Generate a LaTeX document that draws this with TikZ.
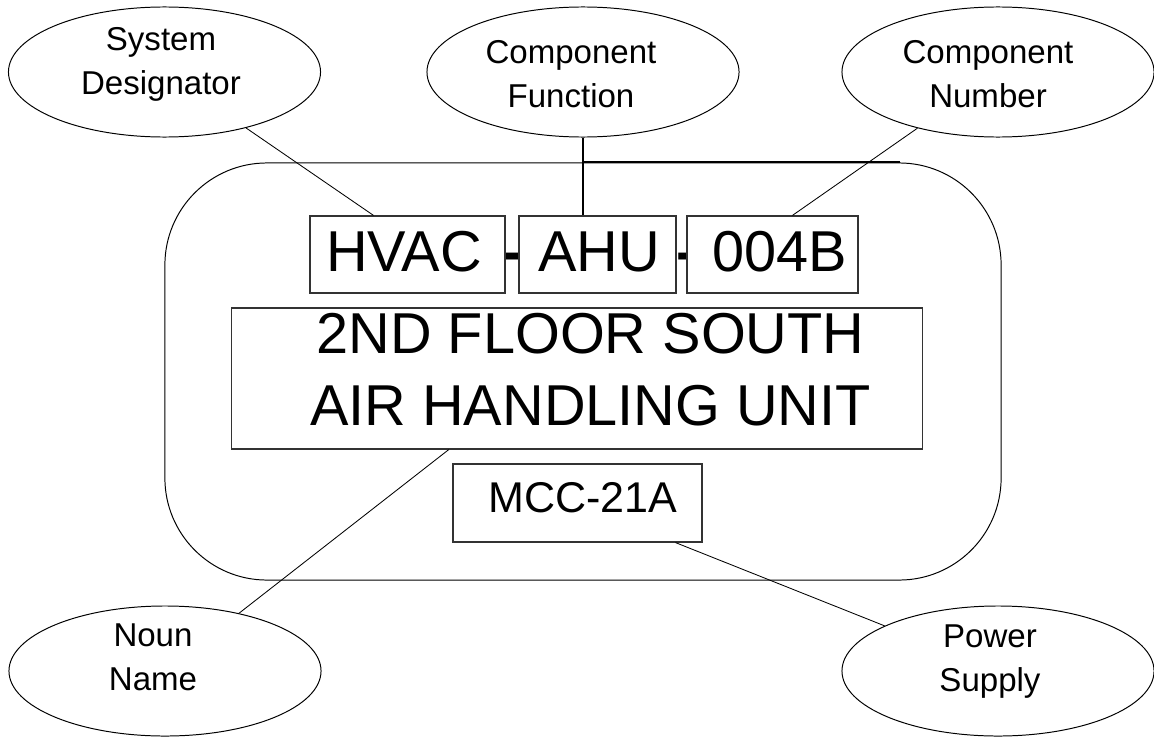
\documentclass[tikz,border=0pt]{standalone}
\usepackage{fontspec}
\setmainfont{Liberation Sans}
\usetikzlibrary{calc,shapes.geometric}

\begin{document}
\begin{tikzpicture}[
    x=0.025cm, y=-0.025cm,
    oval/.style={draw=black, ellipse, minimum width=7.8cm, minimum height=3.25cm,
      inner sep=0pt, line width=0.7pt},
    ovaltext/.style={align=center, inner sep=0pt, anchor=north,
      font=\fontsize{23.5}{31.3}\selectfont},
    fieldbox/.style={draw=black!80, fill=white, line width=0.8pt,
      minimum height=1.925cm, inner sep=0pt},
    fieldtext/.style={inner sep=0pt, anchor=base, font=\fontsize{41}{51.2}\selectfont},
    codetext/.style={inner sep=0pt, anchor=base, font=\fontsize{30.6}{36}\selectfont},
    leader/.style={draw=black, line width=0.6pt}
  ]
  \useasboundingbox (0,0) rectangle (1154,736);

  % tag outline
  \node[draw=black, line width=0.7pt, rounded corners=2.55cm, minimum width=20.9cm,
    minimum height=10.425cm, inner sep=0pt] (frame) at (583,371.5) {};

  % callouts
  \node[oval] (sysdes) at (164.5,72) {};
  \node[ovaltext] (sysdesText) at (161,27) {System\\Designator};
  \node[oval] (func) at (583,72) {};
  \node[ovaltext] (funcText) at (571,40) {Component\\Function};
  \node[oval] (num) at (998,72) {};
  \node[ovaltext] (numText) at (988,40) {Component\\Number};
  \node[oval] (noun) at (165,671) {};
  \node[ovaltext] (nounText) at (153,623) {Noun\\Name};
  \node[oval] (power) at (998,671) {};
  \node[ovaltext] (powerText) at (990,624) {Power\\Supply};

  % separators of the tag number
  \node[fieldtext, font=\fontsize{41}{51.2}\selectfont\bfseries] (dashA) at (512,271) {-};
  \node[fieldtext, font=\fontsize{41}{51.2}\selectfont\bfseries] (dashB) at (686,271) {-};

  % tag fields
  \node[fieldbox, minimum width=4.875cm] (hvac) at (407.5,254.5) {};
  \node[fieldbox, minimum width=3.925cm] (ahu) at (597.5,254.5) {};
  \node[fieldbox, minimum width=4.275cm] (seq) at (772.5,254.5) {};
  \node[fieldbox, minimum width=17.25cm, minimum height=3.525cm] (desc) at (577,378.5) {};
  \node[fieldbox, minimum width=6.225cm, minimum height=1.95cm] (mcc) at (577.5,503) {};

  \node[fieldtext] (hvacText) at (404,271) {HVAC};
  \node[fieldtext] (ahuText) at (599,271) {AHU};
  \node[fieldtext] (seqText) at (780,271) {004B};
  \node[fieldtext, anchor=north, align=center] (descText) at (590.5,313)
    {2ND FLOOR SOUTH\\AIR HANDLING UNIT};
  \node[codetext] (mccText) at (583,512) {MCC-21A};

  % leaders
  \draw[leader] (sysdes) -- (hvac.131);
  \draw[leader, line width=1.4pt] (func) -- (func |- ahu.north);
  \draw[line width=1.4pt] (func |- frame.north) -- ($(frame.north east)+(-102,0)$);
  \draw[leader] (num) -- (seq.63.5);
  \draw[leader] (noun) -- (desc.209.4);
  \draw[leader] (power) -- (mcc.338.6);
\end{tikzpicture}
\end{document}
